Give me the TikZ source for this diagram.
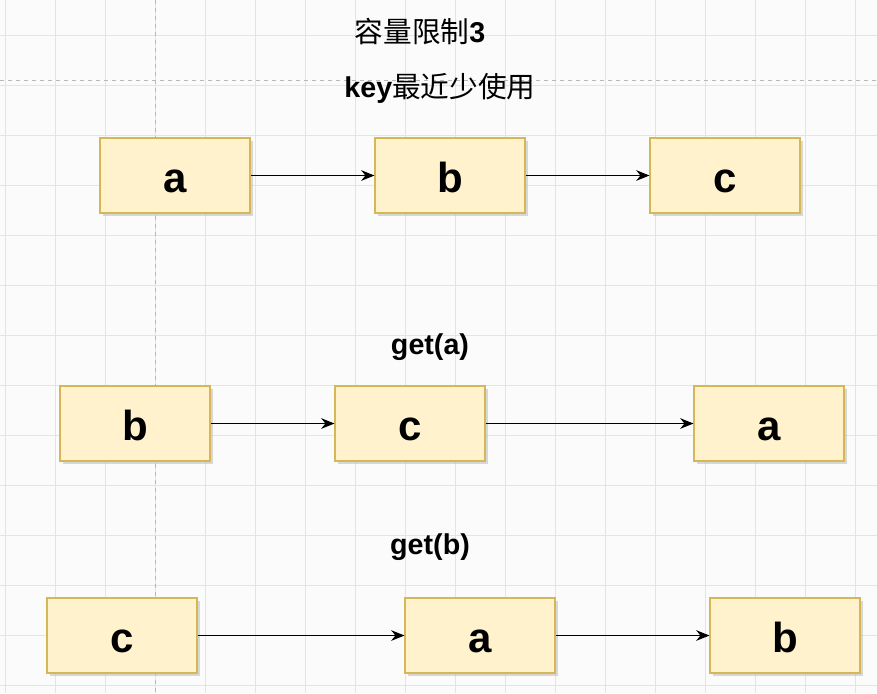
\documentclass[tikz,border=0pt]{standalone}
\usepackage{fontspec}
\setmainfont{Liberation Sans}
\newfontfamily\cjk{Noto Sans CJK SC}
\usetikzlibrary{arrows.meta,shadows}
\definecolor{boxfill}{HTML}{FFF2CC}
\definecolor{boxline}{HTML}{D6B656}
\definecolor{gridc}{HTML}{E4E4E4}
\definecolor{pagec}{HTML}{B8B8B8}
\tikzset{
  cell/.style={draw=boxline, fill=boxfill, line width=0.8pt, minimum width=112.5pt, minimum height=56.25pt,
    inner sep=0pt, text height=26.2pt, text depth=0pt, font=\fontsize{31.5}{31.5}\selectfont\bfseries,
    drop shadow={shadow xshift=2.2pt, shadow yshift=-2.2pt, fill=black!25, opacity=0.6}},
  link/.style={draw=black, line width=0.9pt, -{Stealth[length=10pt,width=8pt]}},
  caption/.style={inner sep=0pt, font=\fontsize{21.5}{21.5}\selectfont\bfseries},
}
\begin{document}
\begin{tikzpicture}[x=0.75pt,y=-0.75pt]
\useasboundingbox (0,0) rectangle (877,693);
\fill[white!97!gray] (0,0) rectangle (877,693);
% grid
\foreach \gx in {5,55,...,855} {\draw[gridc, line width=0.6pt] (\gx,0) -- (\gx,693);}
\foreach \gy in {35,85,...,685} {\draw[gridc, line width=0.6pt] (0,\gy) -- (877,\gy);}
% page breaks
\draw[pagec, dashed, line width=0.7pt] (155,0) -- (155,693);
\draw[pagec, dashed, line width=0.7pt] (0,80) -- (877,80);
% titles
\node[caption] (t1) at (420,32) {{\cjk\mdseries 容量限制}3};
\node[caption] (t2) at (440,88) {key{\cjk\mdseries 最近少使用}};
\node[caption] (g1) at (430,347) {get(a)};
\node[caption] (g2) at (430,547) {get(b)};
% row 1
\node[cell] (r1a) at (175,175.5) {a};
\node[cell] (r1b) at (450,175.5) {b};
\node[cell] (r1c) at (725,175.5) {c};
% row 2
\node[cell] (r2b) at (135,423.5) {b};
\node[cell] (r2c) at (410,423.5) {c};
\node[cell] (r2a) at (769,423.5) {a};
% row 3
\node[cell] (r3c) at (122,635.5) {c};
\node[cell] (r3a) at (480,635.5) {a};
\node[cell] (r3b) at (785,635.5) {b};
% links
\draw[link] (r1a) -- (r1b);
\draw[link] (r1b) -- (r1c);
\draw[link] (r2b) -- (r2c);
\draw[link] (r2c) -- (r2a);
\draw[link] (r3c) -- (r3a);
\draw[link] (r3a) -- (r3b);
\end{tikzpicture}
\end{document}
